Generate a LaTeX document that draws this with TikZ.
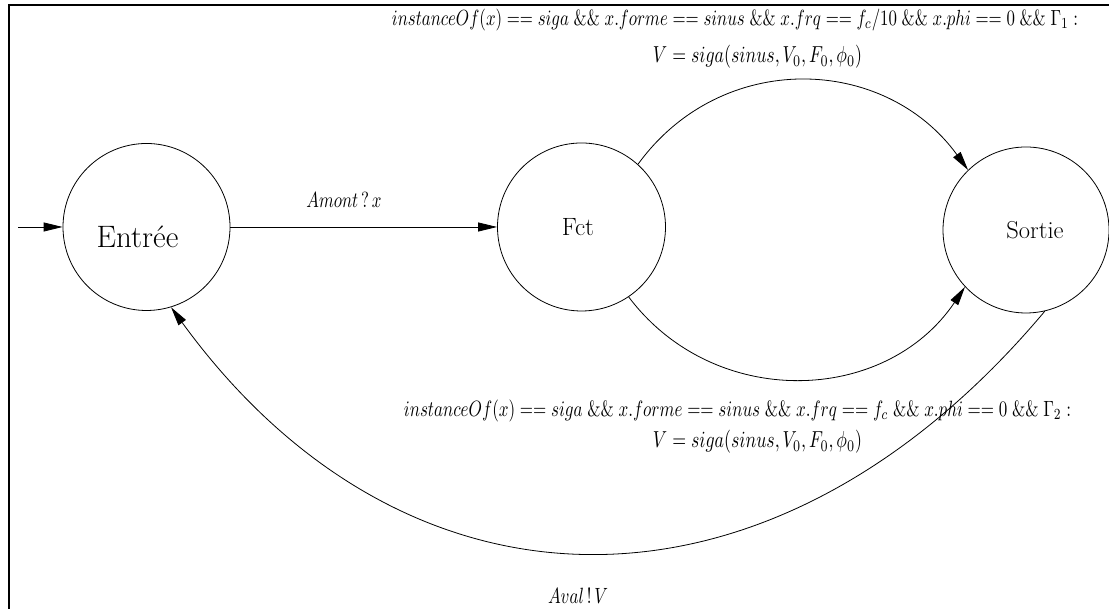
\documentclass[tikz,border=0pt]{standalone}
\usepackage{graphicx}
\usetikzlibrary{arrows.meta}
\tikzset{
  state/.style={draw, circle, line width=0.8pt, inner sep=0pt},
  arr/.style={line width=0.8pt, -{Triangle[length=19pt,width=9pt]}},
  lab/.style={inner sep=0pt, anchor=center}
}
\newcommand{\mylab}[2]{\scalebox{1}[1.3]{\resizebox{#1}{!}{#2}}}
\begin{document}
\begin{tikzpicture}[x=1pt,y=1pt]
\useasboundingbox (0,0) rectangle (1109,609);
\draw[line width=2pt] (8.5,0) -- (8.5,604.2) -- (1109,604.2);
% states
\node[state, minimum size=167pt] (entree) at (146.5,382) {\hspace*{-18pt}\raisebox{-21pt}[0pt][0pt]{\fontsize{31}{34}\selectfont Entr\'ee}};
\node[state, minimum size=168pt] (fct) at (581.5,382) {\hspace*{-7pt}\fontsize{25}{28}\selectfont Fct};
\node[state, minimum size=166pt] (sortie) at (1026,379) {\hspace*{18pt}\fontsize{24.5}{27}\selectfont Sortie};
\coordinate (start) at (18,382);
% connectors
\draw[arr] (start) -- (entree);
\draw[arr] (entree) -- (fct);
\draw[arr] (fct.48) to[out=54,in=126,looseness=1.1] (sortie.134);
\draw[arr] (fct.-56) to[out=-53,in=-124,looseness=1.08] (sortie.-137);
\draw[arr] (sortie.-77) .. controls +(-130:425) and +(-54:400) .. (entree.-73);
% labels
\node[lab] (amont) at (344,409) {\mylab{75pt}{$Amont\,?\,x$}};
\node[lab] (t1) at (735,589) {\mylab{686pt}{$instanceOf(x) == siga\;\&\&\;x.forme == sinus\;\&\&\;x.frq == f_c/10\;\&\&\;x.phi == 0\;\&\&\;\Gamma_1 :$}};
\node[lab] (t2) at (757.5,552) {\mylab{209pt}{$V = siga(sinus, V_0, F_0, \phi_0)$}};
\node[lab] (b1) at (737.5,198) {\mylab{667pt}{$instanceOf(x) == siga\;\&\&\;x.forme == sinus\;\&\&\;x.frq == f_c\;\&\&\;x.phi == 0\;\&\&\;\Gamma_2 :$}};
\node[lab] (b2) at (757.5,167) {\mylab{209pt}{$V = siga(sinus, V_0, F_0, \phi_0)$}};
\node[lab] (aval) at (578,13) {\mylab{60pt}{$Aval\,!\,V$}};
\end{tikzpicture}
\end{document}
